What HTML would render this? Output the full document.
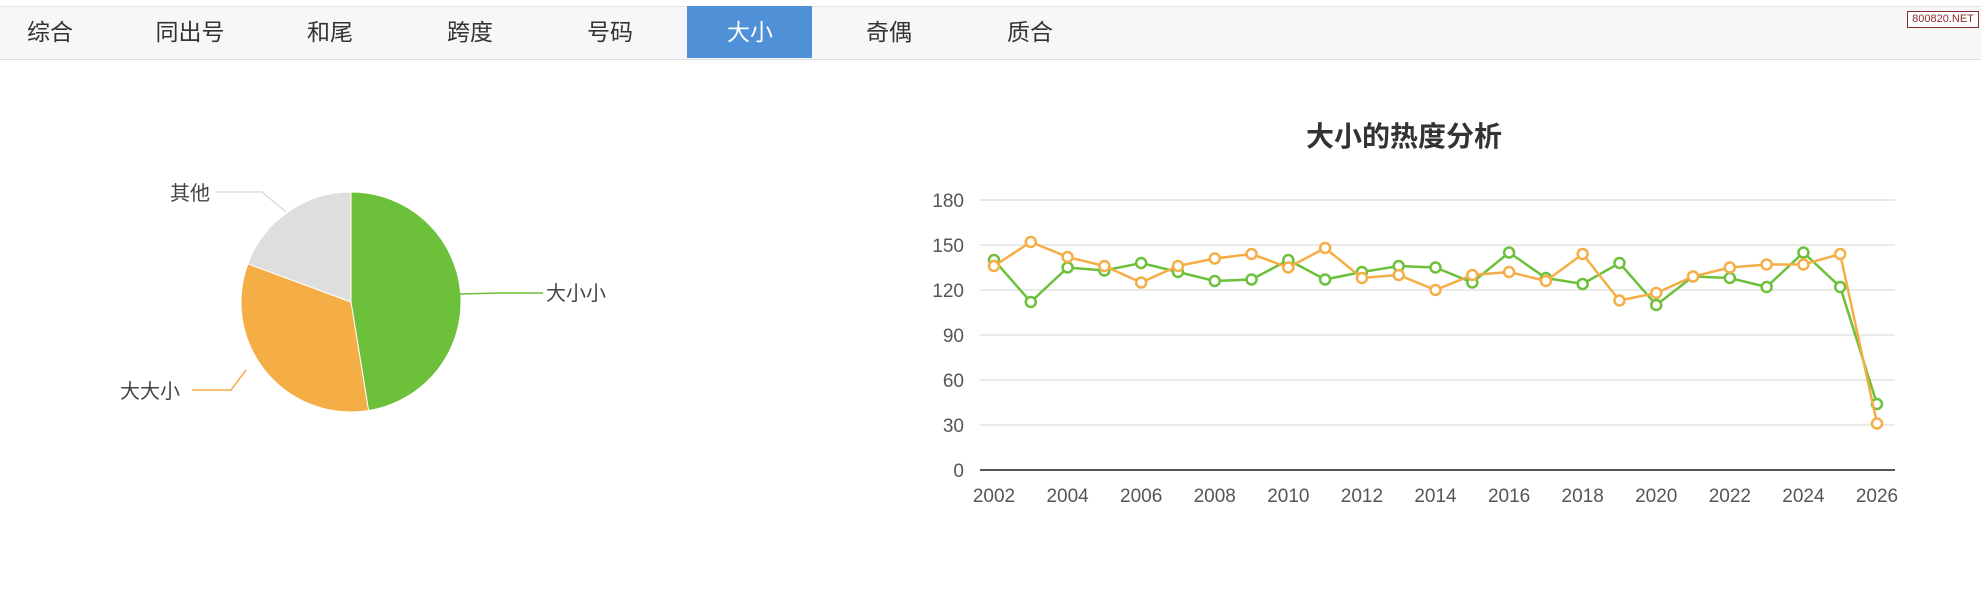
<!DOCTYPE html>
<html><head><meta charset="utf-8"><style>
body{margin:0;width:1981px;height:610px;background:#fff;position:relative;overflow:hidden;font-family:"Liberation Sans","Noto Sans CJK SC",sans-serif}
.bar{position:absolute;left:0;top:6px;width:1981px;height:52px;background:#f6f7f8;border-top:1px solid #e6e6e6;border-bottom:1px solid #ddd}
.tab{position:absolute;top:6px;height:52px;line-height:52px;font-size:23px;color:#333;transform:translateX(-50%)}
.act{position:absolute;left:687px;top:6px;width:125px;height:52px;background:#4f90d6}
.badge{position:absolute;left:1907px;top:11px;width:70px;height:15px;border:1px solid #8a2b2b;font-size:11px;line-height:15px;text-align:center;color:#8a2b2b;background:#fff}
</style></head><body>
<div class="bar"></div><div class="act"></div>
<div class="tab" style="left:50px">综合</div>
<div class="tab" style="left:190px">同出号</div>
<div class="tab" style="left:330px">和尾</div>
<div class="tab" style="left:470px">跨度</div>
<div class="tab" style="left:610px">号码</div>
<div class="tab" style="left:750px;color:#fff">大小</div>
<div class="tab" style="left:889px">奇偶</div>
<div class="tab" style="left:1030px">质合</div>
<div class="badge">800820.NET</div>
<svg width="1981" height="610" style="position:absolute;left:0;top:0" font-family="Liberation Sans, Noto Sans CJK SC, sans-serif">
<g id="pie"></g>
<g id="chart"></g>
</svg>
<script>
var NS="http://www.w3.org/2000/svg";
function el(p,t,a,txt){var e=document.createElementNS(NS,t);for(var k in a)e.setAttribute(k,a[k]);if(txt!=null)e.textContent=txt;p.appendChild(e);return e;}
var pie=document.getElementById('pie');
var cx=351,cy=302,r=110;
function pt(a){a=a*Math.PI/180;return [cx+r*Math.sin(a),cy-r*Math.cos(a)];}
function slice(a0,a1,c){var p0=pt(a0),p1=pt(a1);el(pie,'path',{d:'M'+cx+','+cy+'L'+p0+'A'+r+','+r+' 0 '+((a1-a0)>180?1:0)+' 1 '+p1+'Z',fill:c,stroke:'#fff','stroke-width':1});}
slice(0,170.8,'#6cc03a');slice(170.8,290.3,'#f5ae45');slice(290.3,360,'#dedede');
el(pie,'polyline',{points:'460,294 500,293 543,293',fill:'none',stroke:'#6cc03a','stroke-width':1.5});
el(pie,'polyline',{points:'246,370 231,390 192,390',fill:'none',stroke:'#f5ae45','stroke-width':1.5});
el(pie,'polyline',{points:'217,192 262,192 286,212',fill:'none',stroke:'#ddd','stroke-width':1.5});
el(pie,'text',{x:546,y:300,'font-size':20,fill:'#444'},'大小小');
el(pie,'text',{x:120,y:398,'font-size':20,fill:'#444'},'大大小');
el(pie,'text',{x:170,y:200,'font-size':20,fill:'#444'},'其他');
var ch=document.getElementById('chart');
el(ch,'text',{x:1404,y:146,'font-size':28,'font-weight':'bold',fill:'#333','text-anchor':'middle'},'大小的热度分析');
var x0=994,step=(1877-994)/24,y0=470,yt=200;
function Y(v){return y0-(y0-yt)*v/180;}
for(var v=0;v<=180;v+=30){var y=Y(v);el(ch,'line',{x1:980,x2:1895,y1:y,y2:y,stroke:v?'#e4e4e4':'#555','stroke-width':v?1.5:2});
el(ch,'text',{x:964,y:y+7,'font-size':19,fill:'#555','text-anchor':'end'},v);}
for(var i=0;i<=24;i+=2)el(ch,'text',{x:x0+i*step,y:502,'font-size':19,fill:'#555','text-anchor':'middle'},2002+i);
var g=[140,112,135,133,138,132,126,127,140,127,132,136,135,125,145,128,124,138,110,129,128,122,145,122,44];
var o=[136,152,142,136,125,136,141,144,135,148,128,130,120,130,132,126,144,113,118,129,135,137,137,144,31];
function series(d,c){var p=d.map(function(v,i){return (x0+i*step)+','+Y(v)}).join(' ');
el(ch,'polyline',{points:p,fill:'none',stroke:c,'stroke-width':2.5});
d.forEach(function(v,i){el(ch,'circle',{cx:x0+i*step,cy:Y(v),r:5,fill:'#fff',stroke:c,'stroke-width':2.5});});}
series(g,'#6cc03a');series(o,'#f5ae45');
</script>
</body></html>
